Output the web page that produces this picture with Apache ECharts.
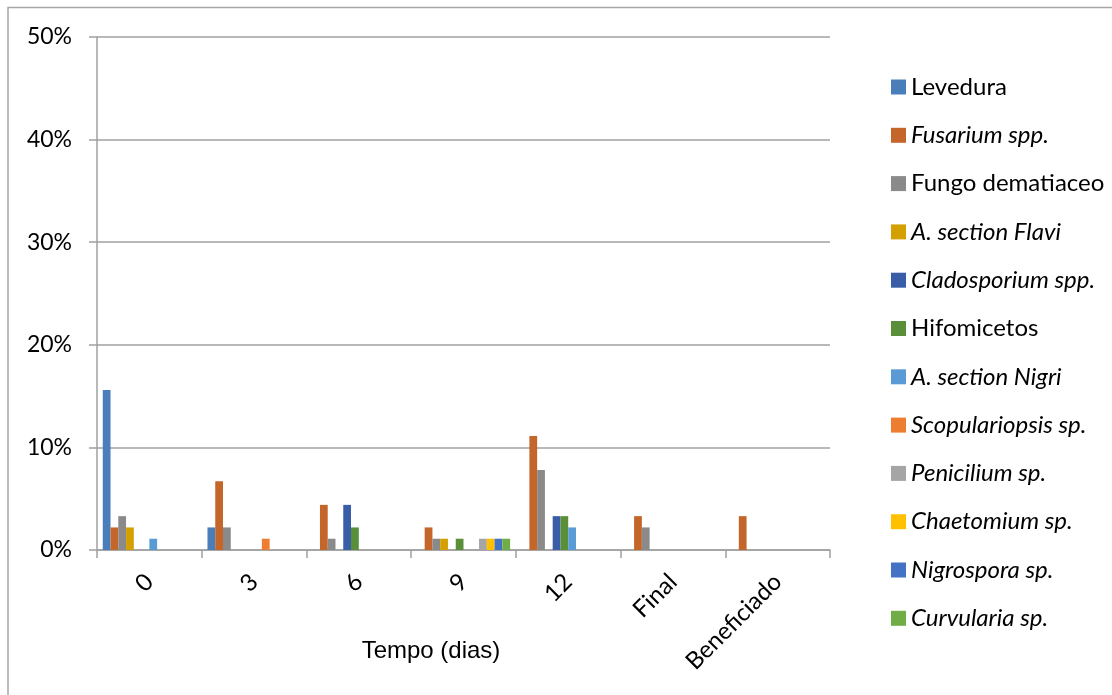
<!DOCTYPE html>
<html>
<head>
<meta charset="utf-8">
<script src="https://cdn.jsdelivr.net/npm/echarts@6/dist/echarts.min.js"></script>
<style>html,body{margin:0;padding:0;background:#fff;}#c{width:1112px;height:695px;}</style>
</head>
<body>
<div id="c"></div>
<script>
const categories = ['0', '3', '6', '9', '12', 'Final', 'Beneficiado'];
const seriesNames = ['Levedura', 'Fusarium spp.', 'Fungo dematiaceo', 'A. section Flavi', 'Cladosporium spp.', 'Hifomicetos', 'A. section Nigri', 'Scopulariopsis sp.', 'Penicilium sp.', 'Chaetomium sp.', 'Nigrospora sp.', 'Curvularia sp.'];
const italicNames = ['Fusarium spp.', 'A. section Flavi', 'Cladosporium spp.', 'A. section Nigri', 'Scopulariopsis sp.', 'Penicilium sp.', 'Chaetomium sp.', 'Nigrospora sp.', 'Curvularia sp.'];
const colors = ['#4A7EBB', '#C4652A', '#8A8A8A', '#D4A000', '#3A5DA8', '#5A8F3A', '#5B9BD5', '#ED7D31', '#A5A5A5', '#FFC000', '#4472C4', '#70AD47'];
const levedura      = [15.6, 2.2, 0,   0,   0,    0,   0];
const fusarium      = [2.2,  6.7, 4.4, 2.2, 11.1, 3.3, 3.3];
const fungoDem      = [3.3,  2.2, 1.1, 1.1, 7.8,  2.2, 0];
const flavi         = [2.2,  0,   0,   1.1, 0,    0,   0];
const cladosporium  = [0,    0,   4.4, 0,   3.3,  0,   0];
const hifomicetos   = [0,    0,   2.2, 1.1, 3.3,  0,   0];
const nigri         = [1.1,  0,   0,   0,   2.2,  0,   0];
const scopulariopsis= [0,    1.1, 0,   0,   0,    0,   0];
const penicilium    = [0,    0,   0,   1.1, 0,    0,   0];
const chaetomium    = [0,    0,   0,   1.1, 0,    0,   0];
const nigrospora    = [0,    0,   0,   1.1, 0,    0,   0];
const curvularia    = [0,    0,   0,   1.1, 0,    0,   0];
const allValues = [levedura, fusarium, fungoDem, flavi, cladosporium, hifomicetos, nigri, scopulariopsis, penicilium, chaetomium, nigrospora, curvularia];
const yTicks = [0, 10, 20, 30, 40, 50];

const FONT = 'Lato';
const chart = echarts.init(document.getElementById('c'));
chart.setOption({
  animation: false,
  color: colors,
  grid: { left: 97, right: 282, top: 37, bottom: 145, containLabel: false },
  graphic: [
    { type: 'rect', shape: { x: 8, y: 7.5, width: 1200, height: 800 }, style: { fill: 'none', stroke: '#A6A6A6', lineWidth: 1.5 }, silent: true },
    { type: 'text', x: 431, y: 651, style: { text: 'Tempo (dias)', font: '24px "Liberation Sans", Arial', fill: '#000', textAlign: 'center', textVerticalAlign: 'middle' } }
  ],
  legend: {
    orient: 'vertical',
    left: 891,
    top: 74,
    padding: 0,
    itemWidth: 15,
    itemHeight: 15,
    itemGap: 22.3,
    icon: 'rect',
    data: seriesNames,
    formatter: function (name) { return italicNames.indexOf(name) >= 0 ? '{i|' + name + '}' : '{n|' + name + '}'; },
    textStyle: {
      fontFamily: FONT, fontSize: 24, color: '#000', lineHeight: 26,
      rich: {
        i: { fontFamily: FONT, fontSize: 24, fontStyle: 'italic', color: '#000', lineHeight: 26 },
        n: { fontFamily: FONT, fontSize: 24, color: '#000', lineHeight: 26 }
      }
    }
  },
  xAxis: {
    type: 'category',
    data: categories,
    axisLine: { lineStyle: { color: '#A0A0A0', width: 1.5 } },
    axisTick: { show: true, length: 8, lineStyle: { color: '#A0A0A0', width: 1.5 } },
    axisLabel: { rotate: 45, margin: 28, fontFamily: FONT, fontSize: 24, color: '#000', interval: 0 }
  },
  yAxis: {
    type: 'value',
    min: 0, max: 50, interval: 10,
    axisLine: { show: true, lineStyle: { color: '#A0A0A0', width: 1.5 } },
    axisTick: { show: true, length: 8, lineStyle: { color: '#A0A0A0', width: 1.5 } },
    splitLine: { lineStyle: { color: '#A0A0A0', width: 1.5 } },
    axisLabel: { margin: 25, fontFamily: FONT, fontSize: 23, color: '#000', formatter: function (v) { return yTicks.indexOf(v) >= 0 ? v + '%' : ''; } }
  },
  series: seriesNames.map(function (name, i) {
    return { name: name, type: 'bar', data: allValues[i], barGap: '0%', barCategoryGap: '11%', itemStyle: { color: colors[i] } };
  })
});
</script>
</body>
</html>
